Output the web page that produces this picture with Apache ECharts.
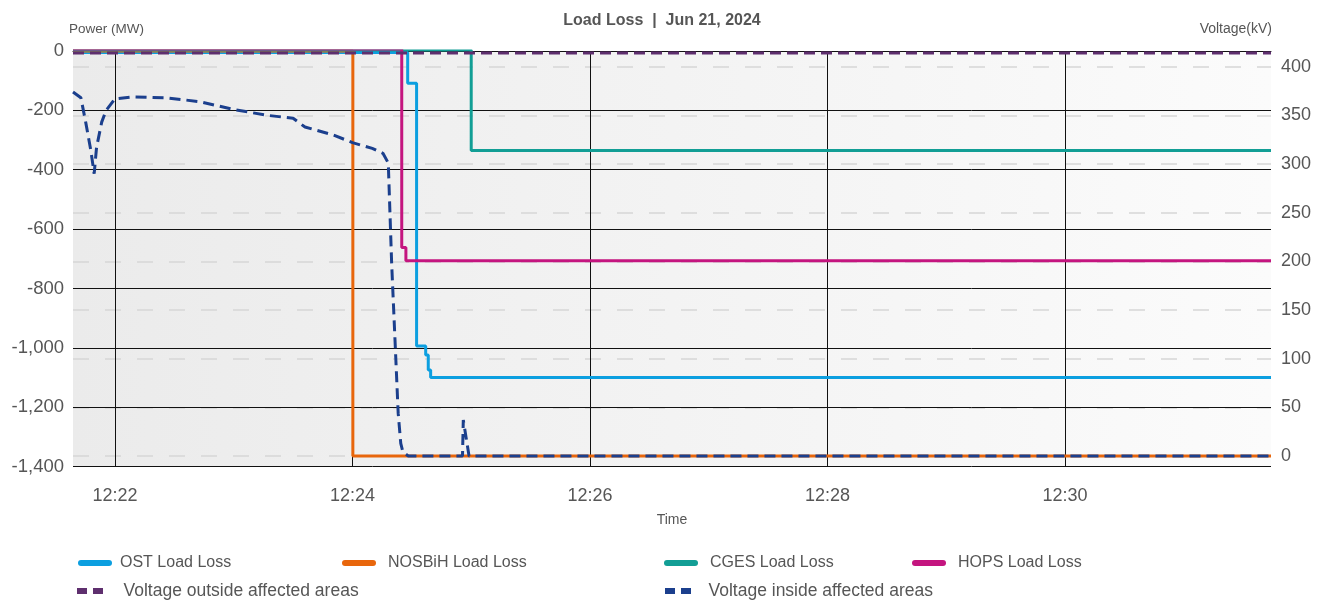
<!DOCTYPE html>
<html>
<head>
<meta charset="utf-8">
<title>Load Loss</title>
<script src="https://cdn.jsdelivr.net/npm/echarts@6/dist/echarts.min.js"></script>
<style>
html,body{margin:0;padding:0;background:#fff;}
#load_loss_chart{width:1324px;height:603px;}
</style>
</head>
<body>
<div id="load_loss_chart"></div>
<script>
// time window of the x axis
var time_range = ['12:21:38.8', '12:31:44.1'];

// load loss (MW), each value holds until the next time
var ost_time = ['12:21:38.8', '12:24:27.9', '12:24:32.4', '12:24:37.0', '12:24:38.3', '12:24:39.5', '12:31:44.1'];
var ost_value = [-5, -109, -994, -1024, -1075, -1100, -1100];

var nosbih_time = ['12:21:38.8', '12:24:00.2', '12:31:44.1'];
var nosbih_value = [0, -1365, -1365];

var cges_time = ['12:21:38.8', '12:25:00.0', '12:31:44.1'];
var cges_value = [3, -335, -335];

var hops_time = ['12:21:38.8', '12:24:24.9', '12:24:27.0', '12:31:44.1'];
var hops_value = [7, -662, -707, -707];

// voltage (kV)
var volt_out_time = ['12:21:38.8', '12:31:44.1'];
var volt_out_value = [414, 414];

var volt_in_time = ['12:21:38.8', '12:21:42.8', '12:21:45.3', '12:21:47.8', '12:21:49.5', '12:21:50.7', '12:21:53.3',
	'12:21:55.5', '12:22:00.0', '12:22:09.0', '12:22:26.0', '12:22:43.0', '12:23:00.0', '12:23:17.0', '12:23:30.0',
	'12:23:36.0', '12:23:50.0', '12:24:00.0', '12:24:10.0', '12:24:15.4', '12:24:18.1', '12:24:19.8', '12:24:21.5',
	'12:24:23.1', '12:24:24.4', '12:24:25.5', '12:24:28.2', '12:24:55.6', '12:24:56.0', '12:24:58.9', '12:31:44.1'];
var volt_in_value = [374, 368, 342, 314, 290, 317, 343,
	355, 367, 369, 368, 364, 356, 350, 347,
	338, 330, 322, 316, 311, 301, 198, 119,
	44, 13, 4, 0, 0, 37, 0, 0];

var legend_names = ['OST Load Loss', 'NOSBiH Load Loss', 'CGES Load Loss', 'HOPS Load Loss',
	'Voltage outside affected areas', 'Voltage inside affected areas'];

var FONT = '"Liberation Sans", Arial, sans-serif';
var TXT = '#565656';

var loss_chart = {
	init : function(){
		var myChart = echarts.init(document.getElementById('load_loss_chart'));
		myChart.setOption(loss_chart.options());
	},

	// "12:24:27.9" -> timestamp
	t : function(s){
		var p = s.split(':');
		var sec = parseFloat(p[2]);
		return new Date(2024, 5, 21, +p[0], +p[1], Math.floor(sec), Math.round((sec % 1) * 1000)).getTime();
	},

	pairs : function(times, values){
		var out = [];
		for (var i = 0; i < times.length; i++) {
			out.push([loss_chart.t(times[i]), values[i]]);
		}
		return out;
	},

	step_series : function(name, color, times, values){
		return {
			name: name,
			type: 'line',
			step: 'end',
			yAxisIndex: 0,
			showSymbol: false,
			symbol: 'none',
			lineStyle: {width: 3, color: color},
			itemStyle: {color: color},
			data: loss_chart.pairs(times, values)
		};
	},

	volt_series : function(name, color, times, values){
		return {
			name: name,
			type: 'line',
			yAxisIndex: 1,
			showSymbol: false,
			symbol: 'none',
			lineStyle: {width: 3, color: color, type: [11, 6]},
			itemStyle: {color: color},
			data: loss_chart.pairs(times, values)
		};
	},

	legend_item : function(name, left, top, icon, w, gap, size){
		return {
			data: [name],
			left: left,
			top: top,
			padding: 0,
			icon: icon,
			itemWidth: w,
			itemHeight: 6,
			itemStyle: {borderWidth: 0},
			textStyle: {fontFamily: FONT, fontSize: size, color: TXT, padding: [0, 0, 0, gap]}
		};
	},

	options : function(){
		var bar = 'path://M3,0H31A3,3 0 0 1 31,6H3A3,3 0 0 1 3,0Z';
		var dots = 'path://M0,0H10V6H0Z M16,0H26V6H16Z';
		var option = {
			animation: false,
			title: {
				text: 'Load Loss  |  Jun 21, 2024',
				left: 'center',
				top: 8,
				textStyle: {fontFamily: FONT, fontSize: 16, fontWeight: 'bold', color: TXT}
			},
			legend: [
				loss_chart.legend_item(legend_names[0], 78, 555, bar, 34, 3, 16),
				loss_chart.legend_item(legend_names[1], 342, 555, bar, 34, 7, 16),
				loss_chart.legend_item(legend_names[2], 664, 555, bar, 34, 7, 16),
				loss_chart.legend_item(legend_names[3], 912, 555, bar, 34, 7, 16),
				loss_chart.legend_item(legend_names[4], 77, 582, dots, 27, 15, 17.5),
				loss_chart.legend_item(legend_names[5], 665, 582, dots, 27, 12, 17.5)
			],
			grid: {
				left: 73,
				right: 53,
				top: 51,
				bottom: 136.5,
				show: true,
				borderWidth: 0,
				backgroundColor: {
					type: 'linear', x: 0, y: 0, x2: 1, y2: 0,
					colorStops: [{offset: 0, color: '#ebebeb'}, {offset: 1, color: '#fbfbfb'}]
				}
			},
			xAxis: {
				type: 'time',
				z: 2,
				min: loss_chart.t(time_range[0]),
				max: loss_chart.t(time_range[1]),
				splitNumber: 5,
				name: 'Time',
				nameLocation: 'middle',
				nameGap: 47,
				nameTextStyle: {fontFamily: FONT, fontSize: 14, color: TXT},
				axisLine: {show: true, lineStyle: {color: '#111', width: 1}},
				axisTick: {show: true, length: 11, lineStyle: {color: '#111'}},
				axisLabel: {
					formatter: '{HH}:{mm}',
					showMinLabel: false,
					showMaxLabel: false,
					margin: 21,
					fontFamily: FONT, fontSize: 18, color: TXT
				},
				splitLine: {show: true, showMinLine: false, showMaxLine: false, lineStyle: {color: '#111', width: 1}}
			},
			yAxis: [
				{
					type: 'value',
					z: 2,
					min: -1400,
					max: 0,
					interval: 200,
					name: 'Power (MW)',
					nameLocation: 'end',
					nameGap: 15,
					nameTextStyle: {fontFamily: FONT, fontSize: 13.5, color: TXT, align: 'left', padding: [0, 0, 0, -4]},
					axisLine: {show: false},
					axisTick: {show: false},
					axisLabel: {
						margin: 9,
						fontFamily: FONT, fontSize: 18.5, color: TXT,
						formatter: function(v){ return v.toLocaleString('en-US'); }
					},
					splitLine: {show: true, lineStyle: {color: '#111', width: 1}}
				},
				{
					type: 'value',
					z: 1,
					min: -10.8,
					max: 416.1,
					splitNumber: 8,
					minInterval: 50,
					maxInterval: 50,
					name: 'Voltage(kV)',
					nameLocation: 'end',
					nameGap: 15,
					nameTextStyle: {fontFamily: FONT, fontSize: 14, color: TXT, align: 'right', padding: [0, -1, 0, 0]},
					axisLine: {show: false},
					axisTick: {show: false},
					axisLabel: {
						margin: 10,
						showMinLabel: false,
						showMaxLabel: false,
						fontFamily: FONT, fontSize: 18, color: TXT
					},
					splitLine: {show: true, showMinLine: false, showMaxLine: false, lineStyle: {color: '#d6d6d6', width: 1.5, type: [16, 16]}}
				}
			],
			series: [
				loss_chart.step_series(legend_names[0], '#0c9fe0', ost_time, ost_value),
				loss_chart.step_series(legend_names[1], '#e8660c', nosbih_time, nosbih_value),
				loss_chart.step_series(legend_names[2], '#129e95', cges_time, cges_value),
				loss_chart.step_series(legend_names[3], '#c4157f', hops_time, hops_value),
				loss_chart.volt_series(legend_names[4], '#5e2f6e', volt_out_time, volt_out_value),
				loss_chart.volt_series(legend_names[5], '#1b3f8d', volt_in_time, volt_in_value)
			]
		};
		return option;
	}
};

loss_chart.init();
</script>
</body>
</html>
